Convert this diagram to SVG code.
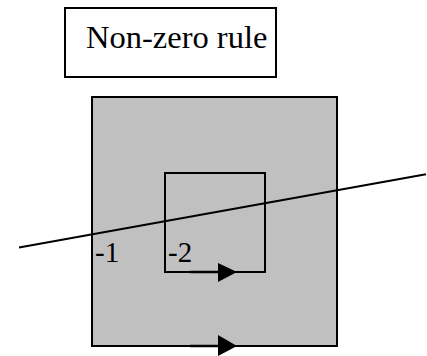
<svg xmlns="http://www.w3.org/2000/svg" width="427" height="356" viewBox="0 0 427 356">
<style>
.s{fill:none;stroke:#000;stroke-width:2}
.ah{fill:#000;stroke:none}
</style>
<rect width="427" height="356" fill="#fff"/>
<g id="title">
<rect x="65" y="8" width="211" height="69" fill="#fff" stroke="#000" stroke-width="2"/>
<text x="86" y="48" font-family="'Liberation Serif', 'Times New Roman', serif" font-size="32.5" fill="#000">Non-zero rule</text>
</g>
<g id="outer">
<rect x="92" y="97" width="245" height="249" fill="#c0c0c0" stroke="#000" stroke-width="2"/>
<text x="95" y="262" font-family="'Liberation Serif', 'Times New Roman', serif" font-size="29" fill="#000">-1</text>
</g>
<g id="inner">
<rect class="s" x="165" y="173" width="100" height="99"/>
<text x="168" y="262" font-family="'Liberation Serif', 'Times New Roman', serif" font-size="29" fill="#000">-2</text>
</g>
<g id="connectors">
<line x1="19" y1="247.5" x2="426" y2="174.3" stroke="#000" stroke-width="2"/>
<line x1="190" y1="272" x2="220" y2="272" stroke="#000" stroke-width="2.5"/>
<polygon class="ah" points="218,263 237,272 218,282"/>
<line x1="190" y1="346" x2="220" y2="346" stroke="#000" stroke-width="2.5"/>
<polygon class="ah" points="218,335 237,346 218,356"/>
</g>
</svg>
